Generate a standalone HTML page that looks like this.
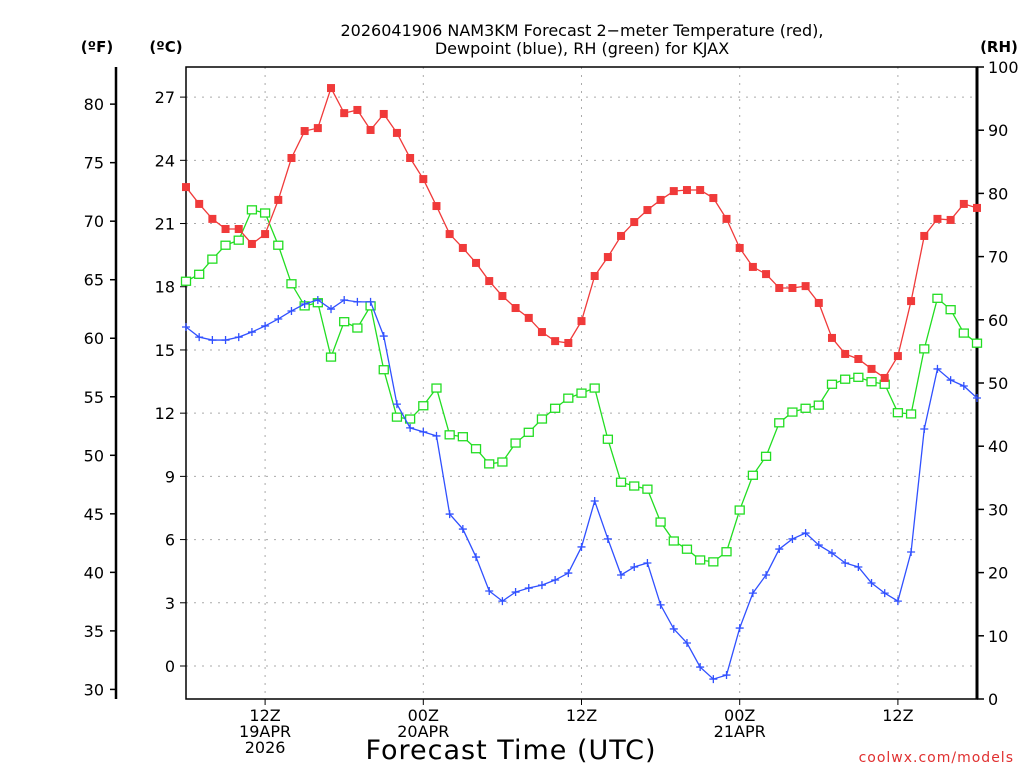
<!DOCTYPE html>
<html><head><meta charset="utf-8"><style>
body{margin:0;background:#fff;}
svg{display:block;font-family:"DejaVu Sans","Liberation Sans",sans-serif;}
</style></head><body>
<svg id="chart" width="1024" height="768" viewBox="0 0 1024 768" xmlns="http://www.w3.org/2000/svg">
<text x="582" y="36" font-size="16" text-anchor="middle">2026041906 NAM3KM Forecast 2−meter Temperature (red),</text>
<text x="582" y="54" font-size="16" text-anchor="middle">Dewpoint (blue), RH (green) for KJAX</text>
<text x="97" y="52" font-size="15" font-weight="bold" text-anchor="middle">(ºF)</text>
<text x="166" y="52" font-size="15" font-weight="bold" text-anchor="middle">(ºC)</text>
<text x="999" y="52" font-size="15" font-weight="bold" text-anchor="middle">(RH)</text>
<text x="511" y="759" font-size="27" text-anchor="middle" letter-spacing="1">Forecast Time (UTC)</text>
<text x="1014" y="762" font-size="14" fill="#e03030" text-anchor="end" letter-spacing="1">coolwx.com/models</text>
<g id="grid"></g><g id="axes"></g><g id="series"></g>
</svg>
<script>
const hours = Array.from({length:61},(_,i)=>i); // forecast hours from 06Z 19APR
const tempC = [22.73,21.93,21.22,20.74,20.74,20.03,20.50,22.12,24.11,25.39,25.53,27.43,26.24,26.39,25.44,26.20,25.30,24.11,23.11,21.83,20.50,19.84,19.13,18.27,17.56,16.99,16.52,15.85,15.42,15.33,16.37,18.51,19.41,20.41,21.07,21.64,22.12,22.54,22.59,22.59,22.21,21.22,19.84,18.94,18.60,17.94,17.94,18.03,17.23,15.57,14.81,14.57,14.10,13.67,14.71,17.32,20.41,21.22,21.17,21.93,21.74];
const dewC = [16.09,15.61,15.47,15.47,15.61,15.85,16.14,16.47,16.85,17.18,17.37,16.94,17.37,17.28,17.28,15.66,12.43,11.30,11.11,10.92,7.21,6.50,5.17,3.56,3.08,3.51,3.70,3.84,4.08,4.41,5.65,7.83,6.03,4.32,4.70,4.89,2.90,1.76,1.09,-0.05,-0.62,-0.43,1.80,3.46,4.32,5.55,6.03,6.31,5.74,5.36,4.89,4.70,3.94,3.46,3.08,5.41,11.25,14.10,13.57,13.29,12.72];
const rh = [66.1,67.2,69.6,71.8,72.6,77.4,76.9,71.8,65.7,62.2,62.7,54.1,59.7,58.7,62.2,52.1,44.6,44.3,46.4,49.2,41.8,41.5,39.6,37.2,37.5,40.5,42.2,44.3,46.0,47.6,48.4,49.2,41.1,34.3,33.7,33.2,28.0,25.0,23.7,22.0,21.7,23.3,29.9,35.4,38.4,43.7,45.4,46.0,46.5,49.8,50.6,50.9,50.2,49.8,45.3,45.1,55.4,63.4,61.6,57.9,56.3];
const cTicks = [0,3,6,9,12,15,18,21,24,27];
const fTicks = [30,35,40,45,50,55,60,65,70,75,80];
const rhTicks = [0,10,20,30,40,50,60,70,80,90,100];
const xTickHours = [6,18,30,42,54];
const xTickLabels = [["12Z","19APR","2026"],["00Z","20APR"],["12Z"],["00Z","21APR"],["12Z"]];

const NS="http://www.w3.org/2000/svg";
const X0=186,X1=977,Y0=67,Y1=699;
const xS=h=>X0+h*(X1-X0)/60;
const yC=c=>666-c*21.07;
const yF=f=>yC((f-32)*5/9);
const yR=r=>Y1-r*(Y1-Y0)/100;
function mk(tag,attrs,parent,text){const e=document.createElementNS(NS,tag);for(const k in attrs)e.setAttribute(k,attrs[k]);if(text!==undefined)e.textContent=text;parent.appendChild(e);return e;}
const grid=document.getElementById('grid'),axes=document.getElementById('axes'),ser=document.getElementById('series');

cTicks.forEach(c=>{
  const l=mk('line',{x1:X0,x2:X1,y1:yC(c),y2:yC(c),stroke:'#aaa','stroke-dasharray':'2,6'},grid);
  
  
  const t=mk('text',{x:175,y:yC(c)+6,'font-size':16,'text-anchor':'end'},axes,String(c));
  
  
  mk('line',{x1:X0-6,x2:X0,y1:yC(c),y2:yC(c),stroke:'#000'},axes);
});
xTickHours.forEach((h,i)=>{
  const l=mk('line',{x1:xS(h),x2:xS(h),y1:Y0,y2:Y1,stroke:'#aaa','stroke-dasharray':'2,6'},grid);
  
  
  mk('line',{x1:xS(h),x2:xS(h),y1:Y1,y2:Y1+6,stroke:'#000'},axes);
  xTickLabels[i].forEach((s,j)=>{
    const t=mk('text',{x:xS(h),y:721+j*16,'font-size':16,'text-anchor':'middle'},axes,s);
    
    
  });
});
fTicks.forEach(f=>{
  mk('line',{x1:110,x2:116,y1:yF(f),y2:yF(f),stroke:'#000','stroke-width':1.5},axes);
  const t=mk('text',{x:104,y:yF(f)+6,'font-size':16,'text-anchor':'end'},axes,String(f));
  
  
});
rhTicks.forEach(r=>{
  mk('line',{x1:X1,x2:X1+7,y1:yR(r),y2:yR(r),stroke:'#000','stroke-width':1.5},axes);
  const t=mk('text',{x:988,y:yR(r)+6,'font-size':16},axes,String(r));
  
  
});
const box=mk('rect',{x:X0,y:Y0,width:X1-X0,height:Y1-Y0,fill:'none',stroke:'#000','stroke-width':1.5},axes);


const fax=mk('line',{x1:116,x2:116,y1:Y0,y2:Y1,stroke:'#000','stroke-width':2.5},axes);


const rax=mk('line',{x1:X1,x2:X1,y1:Y0,y2:Y1,stroke:'#000','stroke-width':3},axes);



function series(vals,yf,color,marker,name){
  const pts=vals.map((v,i)=>[xS(hours[i]),yf(v)]);
  const p=mk('polyline',{points:pts.map(p=>p.join(',')).join(' '),fill:'none',stroke:color,'stroke-width':1.3},ser);
  
  
  pts.forEach(([x,y])=>{
    let m;
    if(marker==='fill') m=mk('rect',{x:x-4,y:y-4,width:8,height:8,fill:color},ser);
    else if(marker==='open') m=mk('rect',{x:x-4.5,y:y-4,width:9,height:8,fill:'#fff',stroke:color,'stroke-width':1.3},ser);
    else m=mk('path',{d:`M${x-4},${y}H${x+4}M${x},${y-4}V${y+4}`,stroke:color,'stroke-width':1.3},ser);
    
    
  });
}
series(rh,yR,'#22dd22','open','rh');
series(dewC,yC,'#3050ff','plus','dewpoint');
series(tempC,yC,'#f03a3a','fill','temperature');
</script>
</body></html>
